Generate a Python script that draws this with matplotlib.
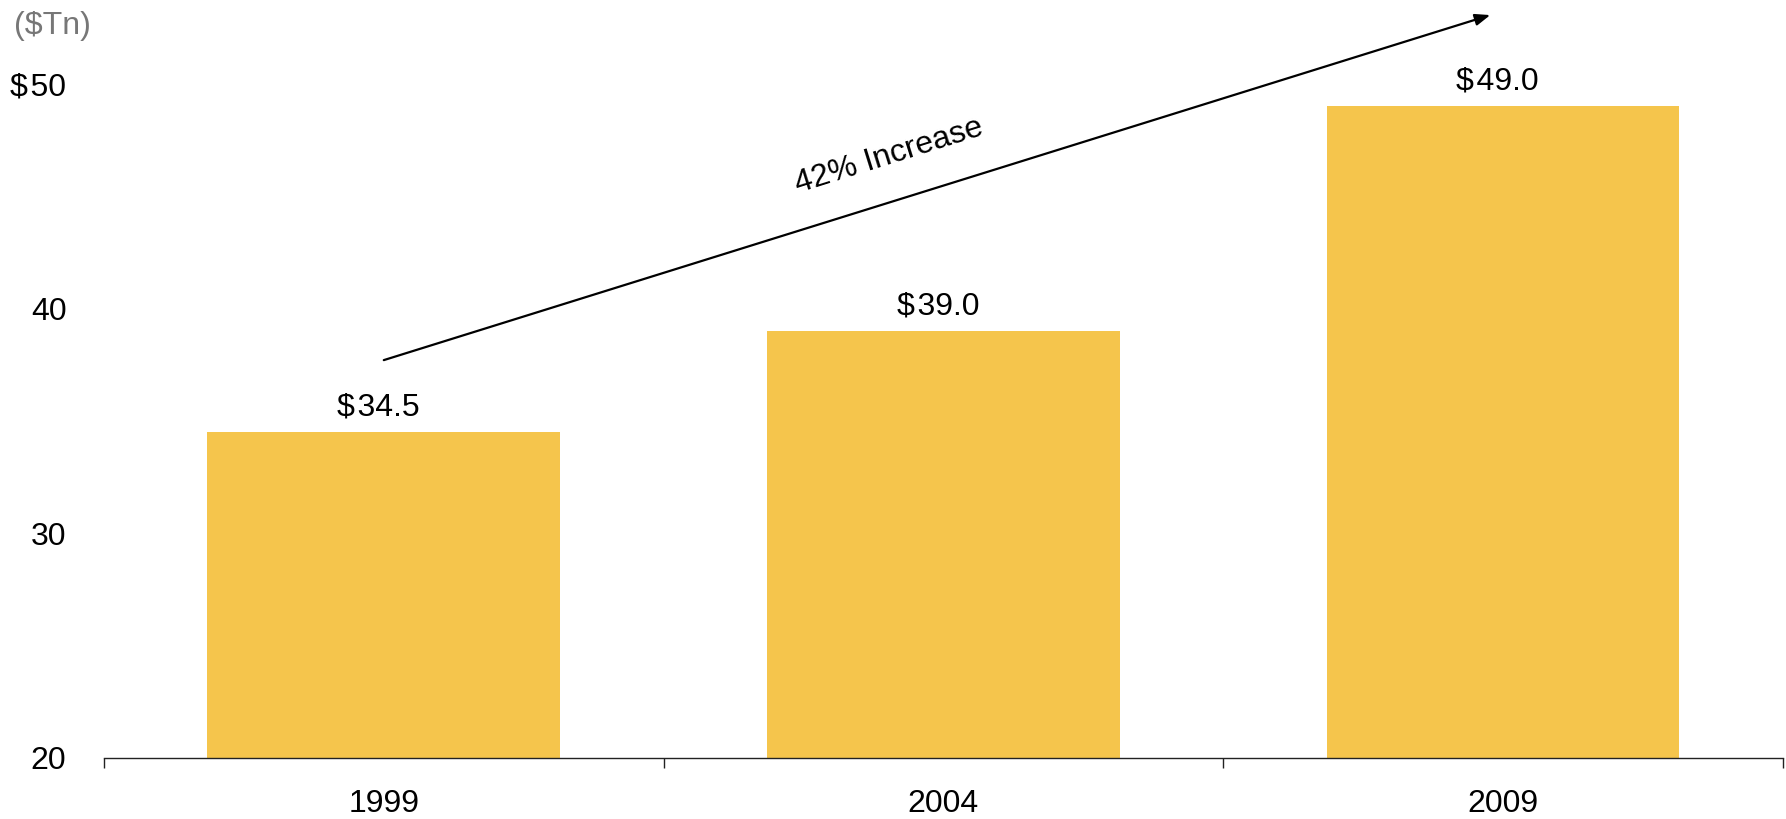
import matplotlib
matplotlib.use("Agg")
import matplotlib.pyplot as plt

years = ["1999", "2004", "2009"]
values = [34.5, 39.0, 49.0]
value_labels = ["$\u200a34.5", "$\u200a39.0", "$\u200a49.0"]
yticks = [20, 30, 40, 50]
ytick_labels = ["20", "30", "40", "$\u200a50"]

plt.rcParams['font.family'] = ['Liberation Sans', 'DejaVu Sans']
FS = 23

fig = plt.figure(figsize=(17.86, 8.19), dpi=100)
ax = fig.add_axes([0.0582, 0.0745, 0.9401, 0.8229])

x = list(range(len(years)))
ax.bar(x, [v - 20 for v in values], bottom=20, width=0.63, color="#F5C54C")

ax.set_xlim(-0.5, 2.5)
ax.set_ylim(20, 50)

for xi, v, lab in zip(x, values, value_labels):
    ax.annotate(lab, (xi, v), xytext=(-4, 7), textcoords="offset points",
                ha="center", va="bottom", fontsize=FS, color="black")

ax.set_yticks(yticks)
ax.set_yticklabels(ytick_labels, fontsize=FS)
ax.tick_params(axis="y", length=0, pad=27)

ax.set_xticks(x)
ax.set_xticklabels(years, fontsize=FS)
ax.tick_params(axis="x", which="major", length=0, pad=22)
ax.set_xticks([-0.5, 0.5, 1.5, 2.5], minor=True)
ax.tick_params(axis="x", which="minor", length=7, width=1.0, color="#222222", direction="out")

for s in ["top", "right", "left"]:
    ax.spines[s].set_visible(False)
ax.spines["bottom"].set_linewidth(1.0)
ax.spines["bottom"].set_color("#222222")

# growth arrow
ax.annotate("", xy=(1.977, 53.07), xytext=(0.0, 37.71),
            arrowprops=dict(arrowstyle="-|>,head_length=0.9,head_width=0.35",
                            color="black", lw=1.6, shrinkA=0, shrinkB=0),
            annotation_clip=False)
ax.text(0.902, 46.8, "42% Increase", rotation=17.4, rotation_mode="anchor",
        ha="center", va="center", fontsize=FS, color="black")

fig.text(14 / 1786, 1 - 26 / 819, "($Tn)", ha="left", va="center",
         fontsize=FS, color="#777777")

fig.savefig("out.png", dpi=100)
